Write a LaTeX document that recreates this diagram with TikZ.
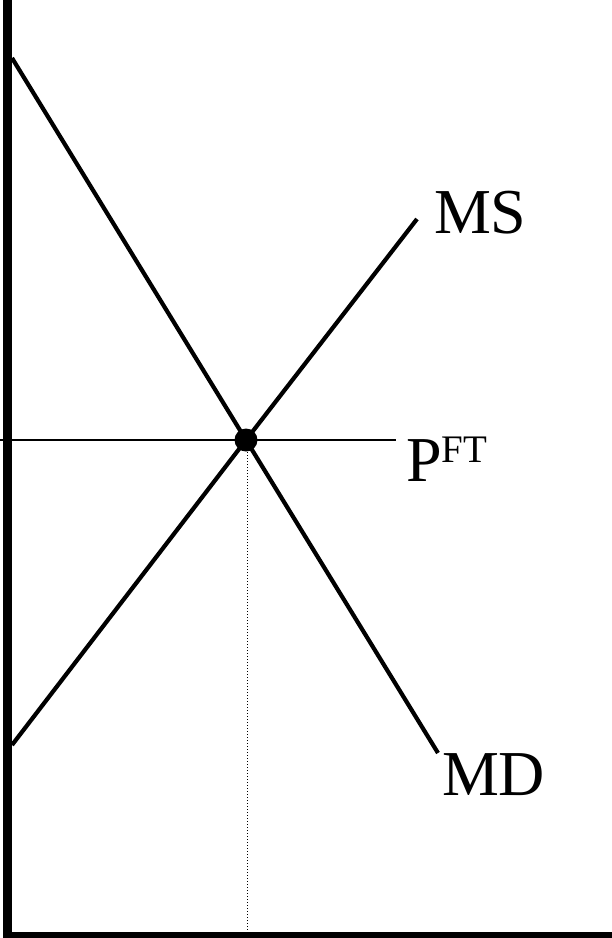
\documentclass[tikz,border=0pt]{standalone}
\usepackage{fontspec}
\setmainfont{Liberation Serif}
\begin{document}
\begin{tikzpicture}[x=1pt,y=-1pt,
  axis/.style={line width=9.5pt,line join=miter},
  curve/.style={line width=4.2pt},
  guide/.style={line width=2pt},
  dropline/.style={line width=1pt,dotted},
  lbl/.style={inner sep=0pt,outer sep=0pt,anchor=base west,font=\fontsize{64}{64}\selectfont}]
\useasboundingbox (0,0) rectangle (612,938);
\clip (0,0) rectangle (612,938);
% axes
\coordinate (top) at (7.5,-10);
\coordinate (origin) at (7.5,937);
\coordinate (right) at (620,937);
\draw[axis] (top) -- (origin) -- (right);
% equilibrium
\coordinate (E) at (246,440);
\coordinate (mdstart) at (12,58);
\coordinate (mdend) at (438,753);
\coordinate (msstart) at (12,745);
\coordinate (msend) at (417,219);
\coordinate (hstart) at (0,440);
\coordinate (hend) at (396,440);
\coordinate (dtop) at (247,440);
\coordinate (dbot) at (247,933);
\draw[guide] (hstart) -- (hend);
\draw[dropline] (dtop) -- (dbot);
\draw[curve] (mdstart) -- (E) -- (mdend);
\draw[curve] (msstart) -- (E) -- (msend);
\fill (E) circle (11.5);
% labels
\node[lbl] (ms) at (434,233) {MS};
\node[lbl] (md) at (442,795) {MD};
\node[lbl] (pft) at (406,481) {P\raisebox{19pt}{\fontsize{39}{39}\selectfont FT}};
\end{tikzpicture}
\end{document}
